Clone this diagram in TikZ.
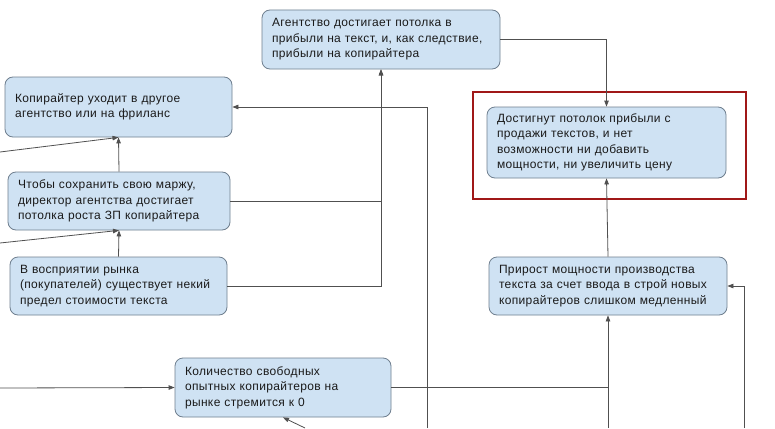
\documentclass[tikz,border=0pt]{standalone}
\usepackage{fontspec}
\setmainfont{Liberation Sans}[LetterSpace=3]
\usetikzlibrary{arrows.meta}
\definecolor{boxfill}{HTML}{CFE2F3}
\definecolor{boxdraw}{HTML}{6F7F8F}
\definecolor{linec}{HTML}{505050}
\definecolor{redc}{HTML}{A01818}
\definecolor{txt}{HTML}{1A1A1A}
\begin{document}
\begin{tikzpicture}[x=1pt,y=-1pt,
  box/.style={draw=boxdraw, fill=boxfill, rounded corners=8pt, line width=0.8pt,
    inner xsep=10pt, inner ysep=2pt, align=left, text=txt,
    font=\fontsize{12pt}{15.5pt}\selectfont},
  arr/.style={draw=linec, line width=0.8pt, -{Triangle[length=6pt,width=4.5pt]}},
  ln/.style={draw=linec, line width=0.8pt}
]
\useasboundingbox (0,0) rectangle (775,428);
\fill[white] (0,0) rectangle (775,428);

\node[box, text width=218pt, minimum height=59pt] (A) at (381,39.5)
  {Агентство достигает потолка в\\прибыли на текст, и, как следствие,\\прибыли на копирайтера};
\node[box, text width=207pt, minimum height=60pt] (K) at (118.5,107)
  {Копирайтер уходит в другое\\агентство или на фриланс};
\node[box, text width=202pt, minimum height=58pt] (Ch) at (119,201)
  {Чтобы сохранить свою маржу,\\директор агентства достигает\\потолка роста ЗП копирайтера};
\node[box, text width=197pt, minimum height=58pt] (V) at (118.5,286)
  {В восприятии рынка\\(покупателей) существует некий\\предел стоимости текста};
\node[box, text width=196pt, minimum height=59pt] (Kol) at (283,387.5)
  {Количество свободных\\опытных копирайтеров на\\рынке стремится к 0};
\node[box, text width=219pt, minimum height=71pt] (D) at (606.5,142.5)
  {Достигнут потолок прибыли с\\продажи текстов, и нет\\возможности ни добавить\\мощности, ни увеличить цену};
\node[box, text width=218pt, minimum height=58pt] (P) at (608,286)
  {Прирост мощности производства\\текста за счет ввода в строй новых\\копирайтеров слишком медленный};

\draw[redc, line width=2pt] (473,92) rectangle (746,199);

\coordinate (l1) at (0,152);
\coordinate (l2) at (0,243);
\coordinate (l3) at (0,388);
\coordinate (b1) at (427,428);
\coordinate (b2) at (305,428);
\coordinate (b3) at (608,428);
\coordinate (b4) at (744,428);
\coordinate (j1) at (608,387.5);

\draw[arr] (A.east) -| (D.north);
\draw[arr] (P.north) -- (D.south);
\draw[arr] (b1) |- (K.east);
\draw[arr] (Ch.east) -| (A.south);
\draw[arr] (V.east) -| (A.south);
\draw[arr] (Ch.north) -- (K.south);
\draw[arr] (l1) -- (K.south);
\draw[arr] (V.north) -- (Ch.south);
\draw[arr] (l2) -- (Ch.south);
\draw[arr] (l3) -- (Kol.west);
\draw[arr] (b2) -- (Kol.south);
\draw[arr] (Kol.east) -| (P.south);
\draw[ln] (b3) -- (j1);
\draw[arr] (b4) |- (P.east);
\end{tikzpicture}
\end{document}
